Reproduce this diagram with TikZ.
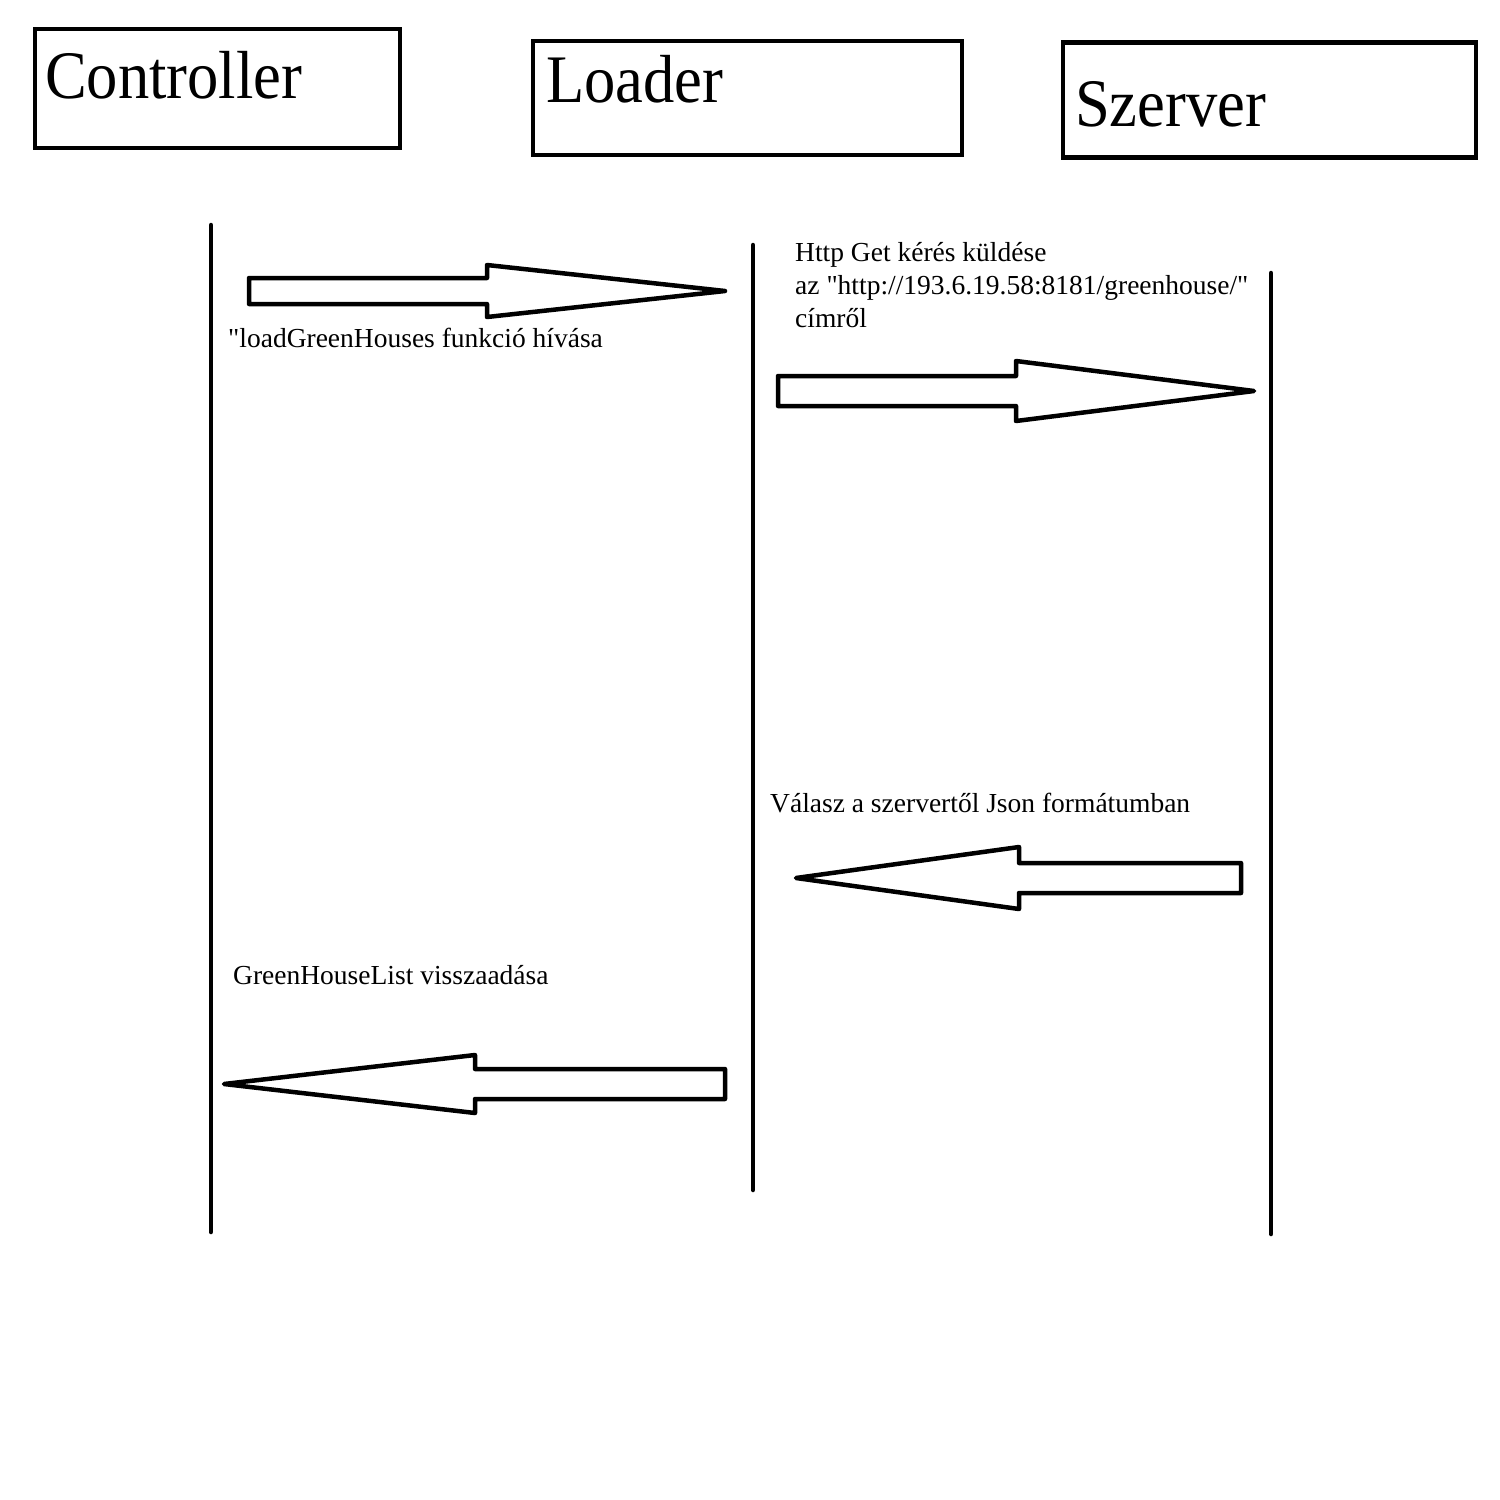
\documentclass[tikz,border=0pt]{standalone}
\usepackage{fontspec}
\setmainfont{Liberation Serif}[Ligatures=TeXOff]
\newfontfamily\headfont{Liberation Serif}[FakeStretch=0.92]
\usepackage{tikz}
\usetikzlibrary{positioning}
\tikzstyle{actor} = [rectangle, draw=black, line width=4.5pt, inner sep=0pt]
\tikzstyle{headtext} = [anchor=base west, inner sep=0pt, font=\headfont\fontsize{68}{72}\selectfont]
\tikzstyle{msgtext} = [anchor=base west, inner sep=0pt, font=\fontsize{27.5}{33}\selectfont]
\tikzstyle{lifeline} = [line width=4.5pt, line cap=round]
\tikzstyle{blockarrow} = [draw=black, fill=white, line width=4.5pt, line join=round]

\begin{document}
\begin{tikzpicture}[x=1pt, y=-1pt]
\useasboundingbox (0,0) rectangle (1500,1500);
% Actors
\node (controller) [actor, minimum width=365, minimum height=119] at (217.5,88.5) {};
\node (loader) [actor, minimum width=429, minimum height=114] at (747.5,98) {};
\node (szerver) [actor, minimum width=413, minimum height=115] at (1269.5,100) {};
\node (controllername) [headtext] at (45,98) {Controller};
\node (loadername) [headtext] at (546,102) {Loader};
\node (szervername) [headtext] at (1075,126) {Szerver};

% Lifelines
\coordinate (ctop) at (211,225);
\coordinate (cbot) at (211,1232);
\coordinate (ltop) at (753,245);
\coordinate (lbot) at (753,1190);
\coordinate (stop) at (1271,273);
\coordinate (sbot) at (1271,1234);
\draw[lifeline] (ctop) -- (cbot);
\draw[lifeline] (ltop) -- (lbot);
\draw[lifeline] (stop) -- (sbot);

% Messages
\draw[blockarrow] (249,278) -- (487,278) -- (487,265) -- (725,291) -- (487,317) -- (487,304) -- (249,304) -- cycle;
\node (callmsg) [msgtext] at (228,347) {"loadGreenHouses funkció hívása};

\node (getmsg) [msgtext, anchor=north west, align=left] at (795,242.5) {Http Get kérés küldése\\az "http://193.6.19.58:8181/greenhouse/"\\címről};
\draw[blockarrow] (778,376) -- (1016,376) -- (1016,361) -- (1254,391) -- (1016,421) -- (1016,406) -- (778,406) -- cycle;

\node (answermsg) [msgtext] at (770,812) {Válasz a szervertől Json formátumban};
\draw[blockarrow] (1241,863) -- (1019,863) -- (1019,847) -- (796,878) -- (1019,909) -- (1019,893) -- (1241,893) -- cycle;

\node (returnmsg) [msgtext] at (233,984) {GreenHouseList visszaadása};
\draw[blockarrow] (725,1069) -- (475,1069) -- (475,1055) -- (224,1084) -- (475,1113) -- (475,1099) -- (725,1099) -- cycle;
\end{tikzpicture}
\end{document}
